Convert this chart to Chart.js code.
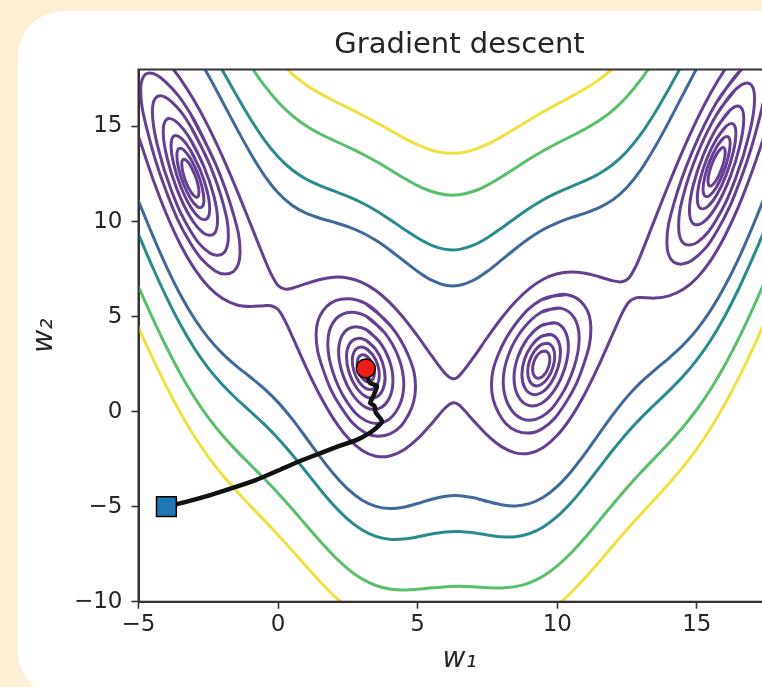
<!DOCTYPE html>
<html>
<head>
<meta charset="utf-8">
<title>Gradient descent</title>
<script src="https://cdn.jsdelivr.net/npm/chart.js@4.4.1/dist/chart.umd.min.js"></script>
<style>
  html, body { margin: 0; padding: 0; width: 762px; height: 687px; overflow: hidden; background: #fdefd6; }
  .card { position: absolute; left: 18px; top: 11px; width: 1000px; height: 686px; background: #fff; border-radius: 46px; }
  .wrap { position: absolute; left: 0; top: 0; width: 919px; height: 687px; }
</style>
</head>
<body>
<div class="card"></div>
<div class="wrap"><canvas id="chart"></canvas></div>
<script>
"use strict";

// 1: data
// tick labels on both axes
const xTicks = [-5, 0, 5, 10, 15];
const yTicks = [-10, -5, 0, 5, 10, 15];

// start (square) and end (dot) of the descent, plus the path in between
const startPoint = [-4, -5];
const endPoint = [3.142, 2.275];
const descentPath = [[-4,-5],[-3.3,-4.75],[-2.4,-4.38],[-1.6,-4.0],[-0.8,-3.6],[0,-3.1],[0.7,-2.65],[1.4,-2.25],[2.2,-1.8],[2.8,-1.5],[3.3,-1.1],[3.6,-0.75],[3.72,-0.5],[3.5,-0.05],[3.45,0.3],[3.3,0.45],[3.42,0.85],[3.54,1.35],[3.3,1.5],[3.2,1.85],[3.142,2.275]];

// open contour lines (upper and lower branch of each level)
const level20Upper = [[-4,18.467],[-3.5,17.511],[-3,16.354],[-2.5,14.992],[-2,13.441],[-1.5,11.731],[-1,9.915],[-0.5,8.082],[-0.25,7.241],[0,6.631],[0.25,6.445],[0.5,6.491],[1,6.732],[1.5,6.956],[2,7.075],[2.5,7.035],[3,6.805],[3.5,6.370],[4,5.735],[4.5,4.922],[5,3.969],[5.5,2.941],[6,1.984],[6.283,1.732],[6.5,1.902],[7,2.851],[7.5,3.913],[8,4.911],[8.5,5.778],[9,6.470],[9.5,6.963],[10,7.252],[10.5,7.348],[11,7.279],[11.5,7.097],[12,6.881],[12.316,6.828],[12.566,7.031],[12.816,7.657],[13,8.276],[13.5,10.143],[14,11.986],[14.5,13.748],[15,15.352],[15.5,16.776],[16,17.988],[16.5,19.010]];
const level20Lower = [[-5,14.490],[-4.5,12.310],[-4,10.399],[-3.5,8.795],[-3,7.520],[-2.5,6.580],[-2,5.959],[-1.5,5.625],[-1,5.527],[-0.5,5.574],[-0.25,5.571],[0,5.369],[0.25,4.776],[0.5,3.983],[1,2.344],[1.5,0.850],[2,-0.407],[2.5,-1.377],[3,-2.029],[3.5,-2.346],[4,-2.333],[4.5,-2.014],[5,-1.425],[5.5,-0.633],[6,0.218],[6.283,0.470],[6.5,0.324],[7,-0.473],[7.5,-1.253],[8,-1.841],[8.5,-2.168],[9,-2.190],[9.5,-1.885],[10,-1.246],[10.5,-0.286],[11,0.969],[11.5,2.467],[12,4.127],[12.316,5.159],[12.566,5.769],[12.816,5.987],[13,6.008],[13.5,5.973],[14,6.092],[14.5,6.420],[15,7.034],[15.5,7.960],[16,9.226],[16.5,10.810],[17,12.722],[17.5,14.902],[18,17.295]];
const level50Upper = [[-3,18.973],[-2.5,17.692],[-2,16.333],[-1.5,14.949],[-1,13.621],[-0.5,12.447],[0,11.513],[0.5,10.856],[1,10.438],[1.5,10.174],[2,9.967],[2.5,9.735],[3,9.424],[3.5,9.012],[4,8.504],[4.5,7.937],[5,7.377],[5.5,6.916],[6,6.649],[6.5,6.647],[7,6.913],[7.5,7.386],[8,7.969],[8.5,8.571],[9,9.122],[9.5,9.580],[10,9.935],[10.5,10.207],[11,10.445],[11.5,10.728],[12,11.152],[12.5,11.806],[13,12.735],[13.5,13.919],[14,15.259],[14.5,16.674],[15,18.070]];
const level50Lower = [[-5,11.082],[-4.5,9.295],[-4,7.630],[-3.5,6.153],[-3,4.901],[-2.5,3.880],[-2,3.067],[-1.5,2.407],[-1,1.821],[-0.5,1.209],[0,0.487],[0.5,-0.382],[1,-1.362],[1.5,-2.368],[2,-3.299],[2.5,-4.077],[3,-4.648],[3.5,-4.988],[4,-5.102],[4.5,-5.029],[5,-4.833],[5.5,-4.608],[6,-4.447],[6.5,-4.421],[7,-4.535],[7.5,-4.726],[8,-4.899],[8.5,-4.961],[9,-4.842],[9.5,-4.502],[10,-3.929],[10.5,-3.145],[11,-2.197],[11.5,-1.164],[12,-0.144],[12.5,0.776],[13,1.549],[13.5,2.197],[14,2.819],[14.5,3.494],[15,4.316],[15.5,5.337],[16,6.593],[16.5,8.068],[17,9.748],[17.5,11.555],[18,13.406]];
const level75Upper = [[-2.5,19.283],[-2,17.976],[-1.5,16.667],[-1,15.422],[-0.5,14.316],[0,13.409],[0.5,12.725],[1,12.239],[1.5,11.892],[2,11.610],[2.5,11.326],[3,10.991],[3.5,10.585],[4,10.114],[4.5,9.610],[5,9.132],[5.5,8.750],[6,8.536],[6.5,8.537],[7,8.756],[7.5,9.151],[8,9.653],[8.5,10.188],[9,10.699],[9.5,11.146],[10,11.521],[10.5,11.842],[11,12.152],[11.5,12.519],[12,13.014],[12.5,13.702],[13,14.611],[13.5,15.729],[14,16.988],[14.5,18.326]];
const level75Lower = [[-5,9.327],[-4.5,7.622],[-4,6.020],[-3.5,4.580],[-3,3.334],[-2.5,2.289],[-2,1.424],[-1.5,0.689],[-1,0.020],[-0.5,-0.660],[0,-1.409],[0.5,-2.251],[1,-3.163],[1.5,-4.086],[2,-4.942],[2.5,-5.668],[3,-6.215],[3.5,-6.561],[4,-6.712],[4.5,-6.702],[5,-6.588],[5.5,-6.442],[6,-6.334],[6.5,-6.311],[7,-6.378],[7.5,-6.491],[8,-6.583],[8.5,-6.578],[9,-6.419],[9.5,-6.068],[10,-5.515],[10.5,-4.780],[11,-3.904],[11.5,-2.955],[12,-2.006],[12.5,-1.120],[13,-0.327],[13.5,0.387],[14,1.090],[14.5,1.842],[15,2.720],[15.5,3.770],[16,5.022],[16.5,6.465],[17,8.084],[17.5,9.812],[18,11.582]];
const level125Upper = [[-1,18.224],[-0.5,17.176],[0,16.291],[0.5,15.585],[1,15.041],[1.5,14.618],[2,14.265],[2.5,13.928],[3,13.569],[3.5,13.170],[4,12.736],[4.5,12.295],[5,11.892],[5.5,11.580],[6,11.410],[6.5,11.415],[7,11.594],[7.5,11.921],[8,12.347],[8.5,12.818],[9,13.287],[9.5,13.723],[10,14.119],[10.5,14.488],[11,14.869],[11.5,15.311],[12,15.867],[12.5,16.583],[13,17.476],[13.5,18.539]];
const level125Lower = [[-5,6.567],[-4.5,4.937],[-4,3.398],[-3.5,1.995],[-3,0.756],[-2.5,-0.313],[-2,-1.231],[-1.5,-2.037],[-1,-2.782],[-0.5,-3.520],[0,-4.291],[0.5,-5.111],[1,-5.965],[1.5,-6.812],[2,-7.597],[2.5,-8.270],[3,-8.793],[3.5,-9.146],[4,-9.334],[4.5,-9.387],[5,-9.348],[5.5,-9.272],[6,-9.208],[6.5,-9.189],[7,-9.216],[7.5,-9.261],[8,-9.277],[8.5,-9.208],[9,-9.007],[9.5,-8.645],[10,-8.113],[10.5,-7.426],[11,-6.621],[11.5,-5.747],[12,-4.859],[12.5,-4.001],[13,-3.192],[13.5,-2.423],[14,-1.647],[14.5,-0.821],[15,0.112],[15.5,1.191],[16,2.440],[16.5,3.850],[17,5.409],[17.5,7.062],[18,8.760]];
const level175Upper = [[0,18.490],[0.5,17.774],[1,17.203],[1.5,16.745],[2,16.357],[2.5,15.993],[3,15.621],[3.5,15.225],[4,14.811],[4.5,14.401],[5,14.034],[5.5,13.755],[6,13.606],[6.5,13.612],[7,13.773],[7.5,14.069],[8,14.458],[8.5,14.896],[9,15.344],[9.5,15.774],[10,16.181],[10.5,16.576],[11,16.991],[11.5,17.469],[12,18.054]];
const level175LowerLeft = [[-5,4.425],[-4.5,2.831],[-4,1.323],[-3.5,-0.060],[-3,-1.296],[-2.5,-2.378],[-2,-3.323],[-1.5,-4.164],[-1,-4.944],[-0.5,-5.709],[0,-6.490],[0.5,-7.300],[1,-8.127],[1.5,-8.939],[2,-9.689],[2.5,-10.335]];
const level175LowerRight = [[9.5,-10.696],[10,-10.175],[10.5,-9.514],[11,-8.743],[11.5,-7.905],[12,-7.046],[12.5,-6.200],[13,-5.383],[13.5,-4.589],[14,-3.778],[14.5,-2.917],[15,-1.956],[15.5,-0.862],[16,0.386],[16.5,1.779],[17,3.307],[17.5,4.925],[18,6.588]];

// closed rings round the four minima, innermost first
const ringsA = [
  [[-3.142,12.947],[-2.987,12.488],[-2.874,11.974],[-2.833,11.545],[-2.874,11.309],[-2.987,11.326],[-3.142,11.603],[-3.296,12.068],[-3.409,12.594],[-3.450,13.029],[-3.409,13.260],[-3.296,13.230]],
  [[-3.142,13.325],[-2.899,12.606],[-2.722,11.807],[-2.657,11.141],[-2.722,10.771],[-2.899,10.794],[-3.142,11.225],[-3.384,11.959],[-3.561,12.789],[-3.626,13.470],[-3.561,13.825],[-3.384,13.771]],
  [[-3.142,13.759],[-2.796,12.738],[-2.543,11.612],[-2.450,10.675],[-2.543,10.153],[-2.796,10.181],[-3.142,10.791],[-3.487,11.843],[-3.740,13.031],[-3.833,13.998],[-3.740,14.489],[-3.487,14.399]],
  [[-3.142,14.325],[-2.655,12.893],[-2.299,11.333],[-2.168,10.058],[-2.299,9.349],[-2.655,9.379],[-3.142,10.225],[-3.628,11.718],[-3.985,13.401],[-4.115,14.737],[-3.985,15.384],[-3.628,15.232]],
  [[-3.142,15.032],[-2.461,13.037],[-1.963,10.919],[-1.781,9.244],[-1.963,8.325],[-2.461,8.362],[-3.142,9.518],[-3.822,11.633],[-4.320,13.990],[-4.503,15.785],[-4.320,16.584],[-3.822,16.307]],
  [[-3.142,15.681],[-2.251,13.073],[-1.600,10.385],[-1.361,8.406],[-1.600,7.368],[-2.251,7.402],[-3.142,8.869],[-4.032,11.682],[-4.684,14.779],[-4.922,16.964],[-4.684,17.797],[-4.032,17.353]]
];
const ringsB = [
  [[3.142,2.947],[3.296,2.739],[3.409,2.409],[3.450,2.047],[3.409,1.743],[3.296,1.577],[3.142,1.603],[2.987,1.817],[2.874,2.160],[2.833,2.528],[2.874,2.826],[2.987,2.980]],
  [[3.142,3.325],[3.384,3.000],[3.561,2.488],[3.626,1.927],[3.561,1.452],[3.384,1.187],[3.142,1.225],[2.899,1.565],[2.722,2.107],[2.657,2.683],[2.722,3.143],[2.899,3.378]],
  [[3.142,3.759],[3.487,3.299],[3.740,2.584],[3.833,1.798],[3.740,1.125],[3.487,0.743],[3.142,0.791],[2.796,1.282],[2.543,2.059],[2.450,2.876],[2.543,3.518],[2.796,3.838]],
  [[3.142,4.325],[3.628,3.683],[3.985,2.701],[4.115,1.638],[3.985,0.718],[3.628,0.169],[3.142,0.225],[2.655,0.928],[2.299,2.033],[2.168,3.157],[2.299,4.016],[2.655,4.442]],
  [[3.142,5.032],[3.822,4.141],[4.320,2.832],[4.503,1.453],[4.320,0.239],[3.822,-0.533],[3.142,-0.482],[2.461,0.528],[1.963,2.077],[1.781,3.576],[1.963,4.670],[2.461,5.203]],
  [[3.142,5.681],[4.032,4.519],[4.684,2.889],[4.922,1.296],[4.684,-0.129],[4.032,-1.152],[3.142,-1.131],[2.251,0.236],[1.600,2.276],[1.361,4.073],[1.600,5.293],[2.251,5.907]]
];
const ringsC = [
  [[9.425,3.147],[9.579,3.190],[9.692,3.043],[9.734,2.748],[9.692,2.377],[9.579,2.027],[9.425,1.803],[9.270,1.767],[9.157,1.926],[9.116,2.227],[9.157,2.591],[9.270,2.929]],
  [[9.425,3.525],[9.667,3.593],[9.845,3.370],[9.910,2.914],[9.845,2.334],[9.667,1.781],[9.425,1.425],[9.182,1.372],[9.005,1.626],[8.940,2.096],[9.005,2.662],[9.182,3.184]],
  [[9.425,3.959],[9.771,4.060],[10.024,3.756],[10.116,3.120],[10.024,2.297],[9.771,1.504],[9.425,0.991],[9.079,0.921],[8.826,1.287],[8.734,1.954],[8.826,2.746],[9.079,3.477]],
  [[9.425,4.525],[9.912,4.673],[10.268,4.270],[10.398,3.419],[10.268,2.286],[9.912,1.159],[9.425,0.425],[8.938,0.338],[8.582,0.864],[8.451,1.776],[8.582,2.847],[8.938,3.852]],
  [[9.425,5.232],[10.105,5.446],[10.603,4.946],[10.786,3.862],[10.603,2.352],[10.105,0.772],[9.425,-0.282],[8.744,-0.377],[8.246,0.363],[8.064,1.566],[8.246,2.957],[8.744,4.298]],
  [[9.425,5.881],[10.315,6.164],[10.967,5.592],[11.205,4.387],[10.967,2.574],[10.315,0.493],[9.425,-0.931],[8.534,-1.009],[7.883,-0.027],[7.644,1.383],[7.883,2.990],[8.534,4.662]]
];
const ringsD = [
  [[15.708,13.547],[15.862,13.840],[15.975,13.877],[16.017,13.649],[15.975,13.211],[15.862,12.678],[15.708,12.203],[15.554,11.916],[15.441,11.892],[15.399,12.126],[15.441,12.557],[15.554,13.078]],
  [[15.708,13.925],[15.950,14.387],[16.128,14.451],[16.193,14.101],[16.128,13.415],[15.950,12.574],[15.708,11.825],[15.466,11.378],[15.288,11.344],[15.223,11.710],[15.288,12.380],[15.466,13.191]],
  [[15.708,14.359],[16.054,15.021],[16.307,15.128],[16.399,14.642],[16.307,13.669],[16.054,12.465],[15.708,11.391],[15.362,10.759],[15.109,10.715],[15.017,11.231],[15.109,12.174],[15.362,13.316]],
  [[15.708,14.925],[16.195,15.863],[16.551,16.038],[16.681,15.399],[16.551,14.055],[16.195,12.349],[15.708,10.825],[15.221,9.948],[14.865,9.896],[14.735,10.596],[14.865,11.879],[15.221,13.462]],
  [[15.708,15.632],[16.389,16.951],[16.887,17.259],[17.069,16.472],[16.887,14.665],[16.389,12.276],[15.708,10.118],[15.028,8.919],[14.529,8.850],[14.347,9.757],[14.529,11.444],[15.028,13.593]],
  [[15.708,16.281],[16.598,18.009],[17.250,18.495],[17.489,17.677],[17.250,15.478],[16.598,12.338],[15.708,9.469],[14.818,7.946],[14.166,7.869],[13.927,8.892],[14.166,10.887],[14.818,13.617]]
];

// 2: styles
const purple = "#643f92";
const blue = "#40699b";
const teal = "#2b8a8e";
const green = "#58bf6a";
const yellow = "#f0e040";
const inkColor = "#262626";
const spineColor = "#333333";

function toXY(points) {
  return points.map(p => ({ x: p[0], y: p[1] }));
}

// one contour line; closed rings repeat their first two points so the spline joins smoothly
function contour(points, color, closed) {
  let pts = closed ? points.concat(points.slice(0, 2)) : points;
  return {
    data: toXY(pts),
    showLine: true,
    borderColor: color,
    borderWidth: 3,
    pointRadius: 0,
    pointHoverRadius: 0,
    tension: closed ? 0.4 : 0.3,
    order: 3
  };
}

function buildDatasets() {
  let sets = [];
  // markers on top
  sets.push({
    data: toXY([startPoint]),
    pointStyle: "rect",
    pointRadius: 14,
    backgroundColor: "#1f77b4",
    borderColor: "#000",
    borderWidth: 1.5,
    order: 0
  });
  sets.push({
    data: toXY([endPoint]),
    pointStyle: "circle",
    pointRadius: 9.5,
    backgroundColor: "#ee1c1c",
    borderColor: "#000",
    borderWidth: 1.5,
    order: 0
  });
  // descent path
  sets.push({
    data: toXY(descentPath),
    showLine: true,
    borderColor: "#111",
    borderWidth: 4.5,
    pointRadius: 0,
    tension: 0.2,
    order: 1
  });
  for (const ring of [...ringsA, ...ringsB, ...ringsC, ...ringsD]) {
    sets.push(contour(ring, purple, true));
  }
  sets.push(contour(level20Upper, purple, false));
  sets.push(contour(level20Lower, purple, false));
  sets.push(contour(level50Upper, blue, false));
  sets.push(contour(level50Lower, blue, false));
  sets.push(contour(level75Upper, teal, false));
  sets.push(contour(level75Lower, teal, false));
  sets.push(contour(level125Upper, green, false));
  sets.push(contour(level125Lower, green, false));
  sets.push(contour(level175Upper, yellow, false));
  sets.push(contour(level175LowerLeft, yellow, false));
  sets.push(contour(level175LowerRight, yellow, false));
  return sets;
}

// matplotlib style minus sign
function tickText(v) {
  return v < 0 ? "\u2212" + Math.abs(v) : String(v);
}

// box round the plot area (top and right sides are not drawn by the axes)
const frame = {
  id: "frame",
  afterDatasetsDraw(chart) {
    const { ctx, chartArea: a } = chart;
    ctx.save();
    ctx.strokeStyle = spineColor;
    ctx.lineWidth = 2;
    ctx.strokeRect(a.left, a.top, a.right - a.left, a.bottom - a.top);
    ctx.restore();
  }
};

// 3: chart
const tickFont = { family: "DejaVu Sans", size: 23 };
const labelFont = { family: "DejaVu Sans", size: 28, style: "italic", lineHeight: 1.2 };

new Chart(document.getElementById("chart"), {
  type: "scatter",
  data: { datasets: buildDatasets() },
  options: {
    responsive: true,
    maintainAspectRatio: false,
    animation: false,
    devicePixelRatio: 1,
    events: [],
    layout: { padding: 0 },
    elements: { line: { capBezierPoints: false, borderCapStyle: "round", borderJoinStyle: "round" } },
    plugins: {
      legend: { display: false },
      tooltip: { enabled: false },
      title: {
        display: true,
        text: "Gradient descent",
        color: inkColor,
        font: { family: "DejaVu Sans", size: 29, weight: "normal", lineHeight: 1.2 },
        padding: { top: 27.6, bottom: 7.1 }
      }
    },
    scales: {
      x: {
        type: "linear",
        position: "bottom",
        min: -5,
        max: 18,
        afterBuildTicks: s => { s.ticks = xTicks.map(v => ({ value: v })); },
        afterFit: s => { s.height = 85.3; },
        ticks: { font: tickFont, color: inkColor, padding: 3, maxRotation: 0, callback: tickText },
        grid: { drawOnChartArea: false, drawTicks: true, tickLength: 7, tickColor: spineColor, tickWidth: 1.6 },
        border: { display: true, color: spineColor, width: 2 },
        title: {
          display: true,
          text: "w\u2081",
          color: inkColor,
          font: labelFont,
          padding: { top: 0, bottom: 10 }
        }
      },
      y: {
        type: "linear",
        position: "left",
        min: -10,
        max: 18,
        afterBuildTicks: s => { s.ticks = yTicks.map(v => ({ value: v })); },
        afterFit: s => { s.width = 138.5; },
        ticks: { font: tickFont, color: inkColor, padding: 9, callback: tickText },
        grid: { drawOnChartArea: false, drawTicks: true, tickLength: 7, tickColor: spineColor, tickWidth: 1.6 },
        border: { display: true, color: spineColor, width: 2 },
        title: {
          display: true,
          text: "w\u2082",
          color: inkColor,
          font: labelFont,
          padding: { top: 28, bottom: 0 }
        }
      },
      // empty right-hand axis, only keeps the title centred over the plot
      spacer: {
        type: "linear",
        position: "right",
        display: true,
        afterFit: s => { s.width = 138.4; },
        ticks: { display: false },
        grid: { display: false },
        border: { display: false }
      }
    }
  },
  plugins: [frame]
});
</script>
</body>
</html>
